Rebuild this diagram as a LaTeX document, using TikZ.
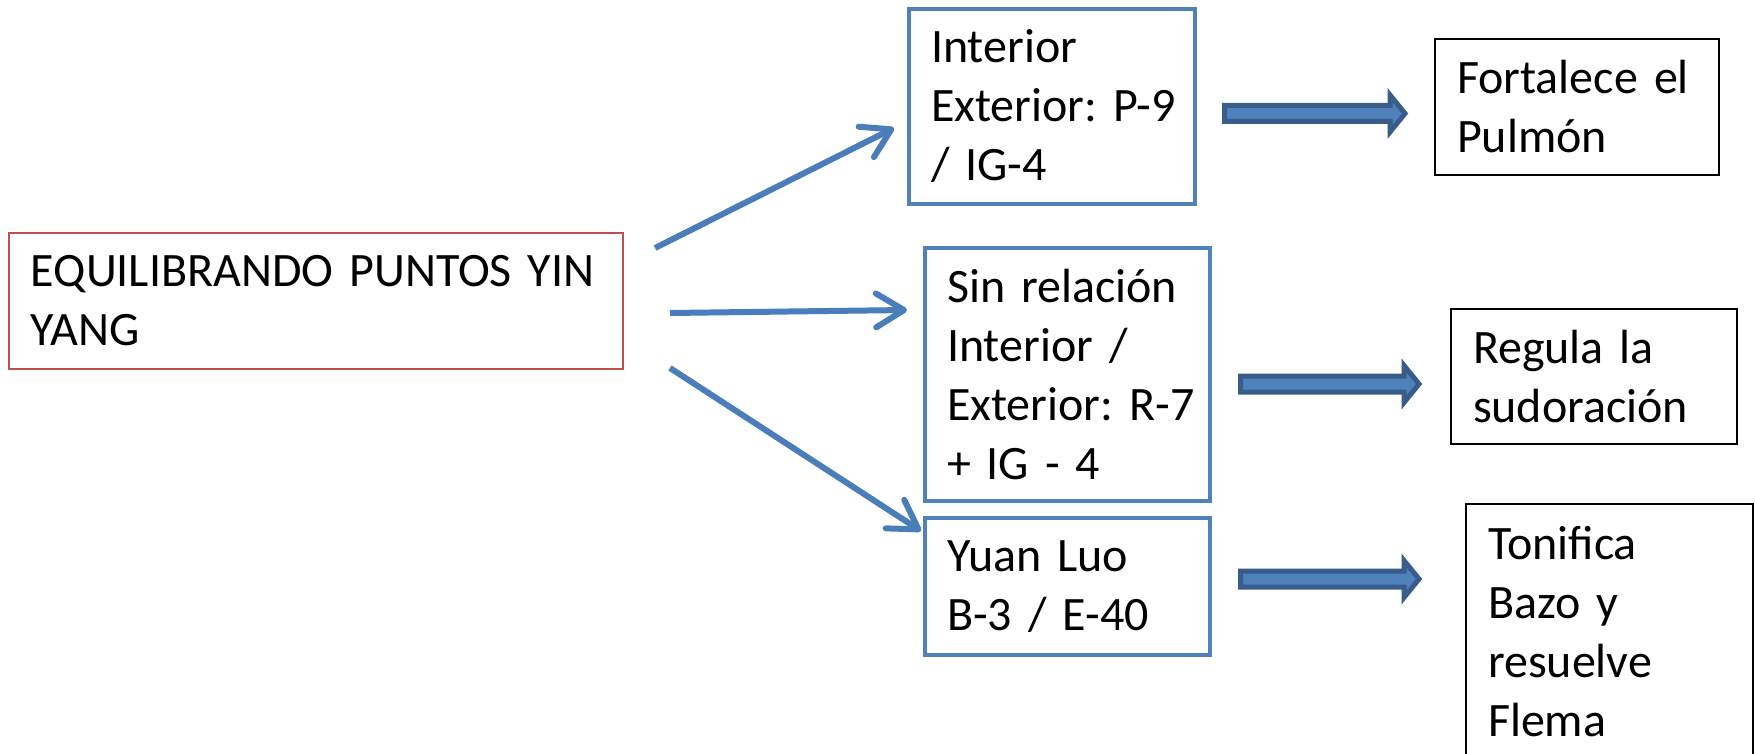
\documentclass[tikz,border=0pt]{standalone}
\usepackage{fontspec}
\setmainfont{Carlito}
\usetikzlibrary{arrows.meta}
\definecolor{boxblue}{HTML}{4F81BD}
\definecolor{lineblue}{HTML}{4A7EBB}
\definecolor{darkblue}{HTML}{385D8A}
\definecolor{boxred}{HTML}{C0504D}
\DeclareRobustCommand\boxfontx{\fontsize{24}{29.5}\selectfont\frenchspacing\spaceskip=3.2pt\relax}
\tikzset{
  txt/.style={font=\boxfontx, align=left, inner xsep=0pt, inner ysep=0pt},
  redbox/.style={txt, draw=boxred, line width=1pt},
  bluebox/.style={txt, draw=boxblue, line width=1.6pt},
  blackbox/.style={txt, draw=black, line width=1.2pt},
  conn/.style={lineblue, line width=3pt, -{Straight Barb[length=14pt,width=17pt,round]}},
  blockarr/.style={fill=boxblue, draw=darkblue, line width=2.5pt, line join=miter}
}
\newcommand\blockarrowx[3]{%
  \path[blockarr] (#1+2.5,#3-8) -- (#2-18,#3-8) -- (#2-18,#3-18.5) -- (#2-3,#3)
    -- (#2-18,#3+18.5) -- (#2-18,#3+8) -- (#1+2.5,#3+8) -- cycle;}
\begin{document}
\begin{tikzpicture}[x=0.5pt,y=-0.5pt]
\useasboundingbox (0,0) rectangle (1755,754);
\fill[white] (0,0) rectangle (1755,754);

\node[redbox, minimum width=307pt, minimum height=68pt, text width=285pt] (src) at (316,301)
  {EQUILIBRANDO PUNTOS YIN\\YANG};

\node[bluebox, minimum width=143pt, minimum height=97.5pt, text width=121pt] (b1) at (1052,106.5)
  {Interior\\\mbox{Exterior: P-9}\\/ IG-4};
\node[bluebox, minimum width=142.5pt, minimum height=126.5pt, text width=120.5pt] (b2) at (1067.5,374.5)
  {Sin relación\\Interior /\\\mbox{Exterior: R-7}\\+ IG - 4};
\node[bluebox, minimum width=142.5pt, minimum height=68.5pt, text width=120.5pt] (b3) at (1067.5,586.5)
  {Yuan Luo\\B-3 / E-40};

\node[blackbox, minimum width=142pt, minimum height=68pt, text width=120pt] (r1) at (1577,107)
  {Fortalece el\\Pulmón};
\node[blackbox, minimum width=143pt, minimum height=67.5pt, text width=121pt] (r2) at (1594,376.5)
  {Regula la\\sudoración};
\node[blackbox, minimum width=143.5pt, minimum height=128pt, text width=121.5pt] (r3) at (1609.5,632)
  {Tonifica\\Bazo y\\resuelve\\Flema};

\coordinate (a1s) at (655,248);
\coordinate (a1e) at (894,128);
\coordinate (a2s) at (670,313);
\coordinate (a2e) at (907,310);
\coordinate (a3s) at (670,368);
\coordinate (a3e) at (921,531);
\draw[conn] (a1s) -- (a1e);
\draw[conn] (a2s) -- (a2e);
\draw[conn] (a3s) -- (a3e);

\blockarrowx{1222}{1408}{113.5}
\blockarrowx{1238}{1422}{384}
\blockarrowx{1238}{1422}{579}
\end{tikzpicture}
\end{document}
